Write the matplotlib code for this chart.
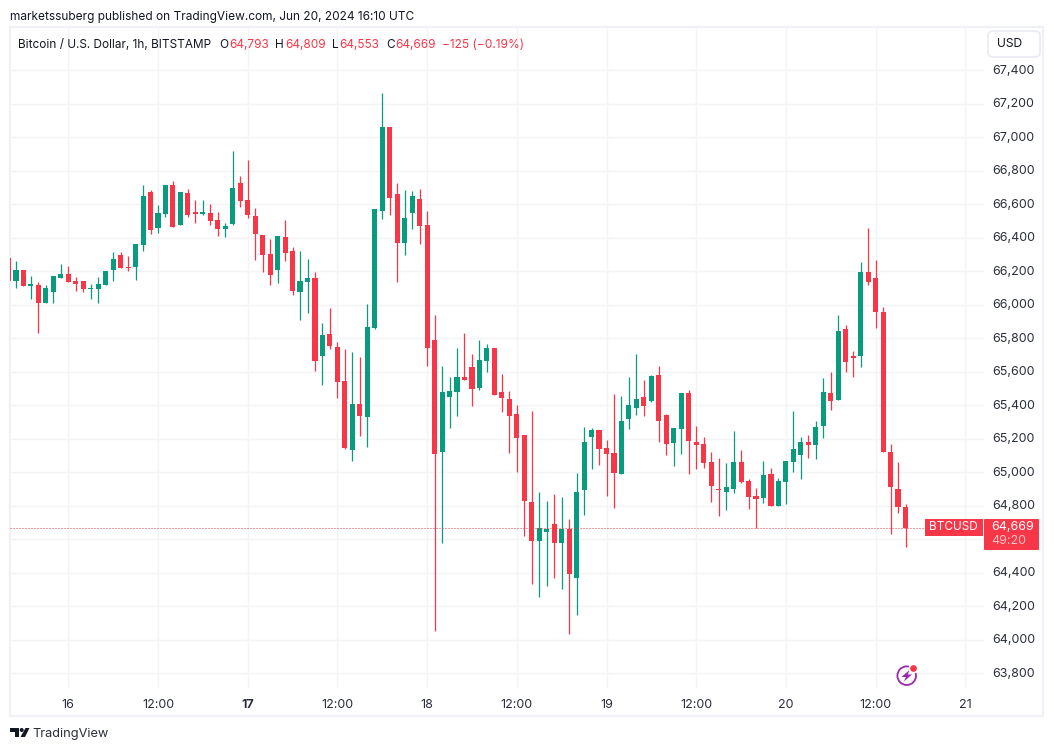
import numpy as np
import matplotlib
matplotlib.use('Agg')
import matplotlib.pyplot as plt
from matplotlib.patches import Rectangle, FancyBboxPatch, Circle, Polygon
from matplotlib.transforms import ScaledTranslation

plt.rcParams['font.family'] = ['Inter', 'DejaVu Sans']

# hourly BTCUSD candles, one row per 12 hours, first row starts on Jun 15 16:00
opens = [66277, 66144, 66208, 66112, 66118, 66011, 66076, 66160,
         66184, 66142, 66142, 66094, 66094, 66118, 66208, 66297, 66226, 66226, 66357, 66673,
         66459, 66542, 66715, 66476, 66667, 66554, 66542, 66548, 66506, 66452, 66482, 66727,
         66626, 66530, 66417, 66303, 66208, 66405, 66321, 66076, 66136, 66160, 65694, 65826,
         65748, 65545, 65133, 65408, 65330, 65861, 66560, 67061, 66661, 66369, 66548, 66632,
         66476, 65790, 65121, 65449, 65479, 65569, 65628, 65503, 65664, 65742, 65479, 65437,
         65348, 65222, 64822, 64590, 64643, 64691, 64578, 64661, 64369, 64894, 65210, 65252,
         65145, 65115, 64990, 65318, 65384, 65450, 65426, 65581, 65342, 65175, 65259, 65474,
         65181, 65169, 65062, 64900, 64883, 64900, 65062, 64948, 64859, 64847, 64990, 64799,
         64942, 65062, 65103, 65181, 65163, 65276, 65473, 65431, 65855, 65694, 65694, 66196,
         66160, 65957, 65121, 64900, 64793]
highs = [66277, 66262, 66208, 66172, 66136, 66118, 66172, 66244,
         66232, 66166, 66142, 66124, 66166, 66202, 66315, 66315, 66291, 66363, 66715, 66685,
         66596, 66715, 66739, 66673, 66691, 66626, 66626, 66602, 66554, 66488, 66918, 66769,
         66864, 66578, 66417, 66393, 66411, 66506, 66345, 66321, 66273, 66196, 65891, 65981,
         65778, 65736, 65718, 65688, 66005, 66572, 67264, 67061, 66727, 66685, 66679, 66691,
         66560, 65939, 65634, 65569, 65742, 65831, 65706, 65790, 65766, 65742, 65587, 65485,
         65402, 65222, 65366, 64882, 64828, 64870, 64852, 64721, 64996, 65270, 65264, 65252,
         65193, 65467, 65455, 65569, 65706, 65551, 65581, 65635, 65348, 65265, 65474, 65492,
         65277, 65211, 65121, 65086, 65056, 65247, 65133, 64960, 64906, 65068, 65026, 64966,
         65068, 65366, 65211, 65223, 65306, 65563, 65599, 65939, 65879, 65724, 66255, 66458,
         66267, 65987, 65169, 65061, 64809]
lows = [66144, 66102, 66112, 66035, 65832, 66011, 66011, 66160,
        66136, 66082, 66076, 66035, 66011, 66118, 66142, 66220, 66202, 66148, 66321, 66423,
        66429, 66524, 66465, 66476, 66524, 66488, 66536, 66476, 66411, 66405, 66476, 66584,
        66518, 66267, 66196, 66118, 66130, 66261, 66058, 65909, 65951, 65605, 65521, 65736,
        65444, 65139, 65067, 65217, 65151, 65855, 66512, 66536, 66136, 66297, 66452, 66363,
        65635, 64052, 64578, 65264, 65336, 65551, 65396, 65491, 65599, 65461, 65360, 65115,
        65002, 64620, 64333, 64255, 64321, 64369, 64303, 64034, 64148, 64745, 65019, 65043,
        64858, 64787, 64990, 65258, 65342, 65336, 65420, 65181, 65103, 65038, 65109, 64990,
        65020, 65026, 64823, 64739, 64775, 64877, 64936, 64781, 64668, 64817, 64799, 64799,
        64811, 65002, 64960, 65086, 65080, 65205, 65372, 65431, 65599, 65569, 65628, 66118,
        65861, 65121, 64631, 64757, 64553]
closes = [66144, 66208, 66112, 66124, 66011, 66100, 66172, 66184,
          66136, 66124, 66094, 66100, 66124, 66202, 66273, 66220, 66220, 66363, 66650, 66447,
          66548, 66715, 66465, 66673, 66536, 66542, 66554, 66500, 66452, 66470, 66697, 66620,
          66536, 66423, 66297, 66178, 66411, 66309, 66082, 66142, 66160, 65664, 65820, 65754,
          65539, 65145, 65408, 65336, 65867, 66572, 67061, 66638, 66369, 66518, 66649, 66470,
          65742, 65109, 65479, 65485, 65569, 65551, 65497, 65670, 65742, 65461, 65443, 65336,
          65205, 64828, 64590, 64667, 64661, 64578, 64661, 64393, 64882, 65181, 65252, 65139,
          65109, 64996, 65306, 65402, 65437, 65396, 65575, 65306, 65169, 65265, 65474, 65187,
          65163, 65056, 64918, 64895, 64912, 65062, 64942, 64853, 64841, 64984, 64799, 64948,
          65068, 65139, 65181, 65163, 65271, 65479, 65425, 65843, 65658, 65682, 66196, 66136,
          65957, 65121, 64912, 64793, 64669]

first_hour = -8  # hours relative to Jun 16 00:00
last_price = 64669
time_ticks = [0, 12, 24, 36, 48, 60, 72, 84, 96, 108, 120]
time_labels = ['16', '12:00', '17', '12:00', '18', '12:00', '19', '12:00', '20', '12:00', '21']
price_ticks = list(range(63800, 67401, 200))

GREEN = '#089b7e'
RED = '#f73647'
GRID = '#f3f4f6'
BORDER = '#eff1f7'
TEXT = '#2a2e39'
W, H = 1054, 751

fig = plt.figure(figsize=(W / 100, H / 100), dpi=100, facecolor='white')

# chart pane, pixel box x 10-984, y 27-688
ax = fig.add_axes([10 / W, 1 - 688 / H, 974 / W, 661 / H])
ax.patch.set_alpha(0)
hours = first_hour + np.arange(len(opens))
opens, highs, lows, closes = map(np.array, (opens, highs, lows, closes))
colors = np.where(closes >= opens, GREEN, RED)

wicks = ax.vlines(hours, lows, highs, colors=colors, linewidth=0.9, zorder=3)
wicks.set_snap(True)
ax.bar(hours, np.abs(closes - opens), bottom=np.minimum(opens, closes), width=0.68,
       color=colors, linewidth=0, zorder=4)
# starts on the pane edge so the 3px dot period lands on whole pixels
price_line = ax.hlines(last_price, -7.8, 114.6, colors=RED, linewidth=0.72,
                       linestyles=(0, (1, 2)), zorder=5)
price_line.set_snap(True)

ax.set_xlim(-7.8, 122.5)
ax.set_ylim(63712, 67658.5)
ax.set_xticks(time_ticks)
ax.set_xticklabels(time_labels)
ax.set_yticks(price_ticks)
# 64,600 sits behind the last price box in the original
ax.set_yticklabels(['' if p == 64600 else f'{p:,}' for p in price_ticks])
ax.yaxis.tick_right()
ax.tick_params(axis='y', length=0, pad=5.8, labelsize=9.0, labelcolor=TEXT)
ax.tick_params(axis='x', length=0, pad=7.8, labelsize=9.0, labelcolor=TEXT)
ax.get_xticklabels()[2].set_fontweight('bold')
for lbl in ax.get_yticklabels():
    lbl.set_transform(lbl.get_transform() + ScaledTranslation(0, 1.2 / 100, fig.dpi_scale_trans))
ax.grid(True, color=GRID, linewidth=1.0)
ax.set_axisbelow(True)
for s in ax.spines.values():
    s.set_visible(False)

# everything around the chart is placed on a pixel overlay
ov = fig.add_axes([0, 0, 1, 1], zorder=10)
ov.set_xlim(0, W)
ov.set_ylim(H, 0)
ov.axis('off')
ov.patch.set_alpha(0)

# pane border goes under the candles, the clipped first candle shows on top of it
fig.add_artist(Rectangle((10, 27), 1033, 689, fill=False, edgecolor=BORDER, linewidth=1.6,
                         transform=ov.transData, zorder=-1))

ov.text(10, 17, 'marketssuberg published on TradingView.com, Jun 20, 2024 16:10 UTC',
        fontsize=8.55, color='#131722', va='center')

# legend row
legend_y = 45
ov.text(18.3, legend_y, 'Bitcoin / U.S. Dollar, 1h, BITSTAMP', fontsize=8.5, color='#131722', va='center')
for letter, lx, value, vx in [('O', 219.5, '64,793', 229), ('H', 275.5, '64,809', 285.5),
                              ('L', 332, '64,553', 339), ('C', 386.5, '64,669', 395.5)]:
    ov.text(lx, legend_y, letter, fontsize=8.5, color='#131722', va='center')
    ov.text(vx, legend_y, value, fontsize=8.5, color=RED, va='center')
ov.text(442.4, legend_y, '\u2212125 (\u22120.19%)', fontsize=8.6, color=RED, va='center')

# USD button
ov.add_patch(FancyBboxPatch((990, 33), 48, 22, boxstyle='round,pad=2,rounding_size=5',
                            facecolor='white', edgecolor='#e9ebf1', linewidth=1.2))
ov.text(1010, 44, 'USD', fontsize=8.7, color='#131722', ha='center', va='center')

# last price labels
ov.add_patch(Rectangle((925, 519), 58, 17, facecolor=RED, edgecolor='none'))
ov.text(953.5, 527.5, 'BTCUSD', fontsize=8.5, color='white', ha='center', va='center')
ov.add_patch(FancyBboxPatch((984, 519), 55, 31, boxstyle='round,pad=0,rounding_size=1',
                            facecolor=RED, edgecolor='none'))
ov.text(1012.5, 527, '64,669', fontsize=9.0, color='white', ha='center', va='center')
ov.text(1009, 541, '49:20', fontsize=9.0, color='#fbc0c6', ha='center', va='center')

# lightning icon
ov.add_patch(Circle((906.7, 675.7), 9.3, fill=False, edgecolor='#9c27b0', linewidth=1.3))
ov.add_patch(Polygon([(909.5, 670), (901.5, 677), (905.8, 677), (904, 681.5),
                      (912, 674.5), (907.7, 674.5)], facecolor='#9c27b0', edgecolor='none'))
ov.add_patch(Circle((913.5, 668.5), 4.2, facecolor=RED, edgecolor='white', linewidth=1.2))

# TradingView logo
ov.add_patch(Polygon([(10, 728), (19, 728), (19, 737), (15, 737), (15, 732), (10, 732)],
                     facecolor='#131722', edgecolor='none'))
ov.add_patch(Circle((21.7, 730), 2, facecolor='#131722', edgecolor='none'))
ov.add_patch(Polygon([(25.5, 728), (29.5, 728), (25, 737), (20.5, 737)],
                     facecolor='#131722', edgecolor='none'))
ov.text(32.5, 734.5, 'TradingView', fontsize=9.2, color=TEXT, va='center')

fig.savefig('out.png', dpi=100, facecolor='white')
